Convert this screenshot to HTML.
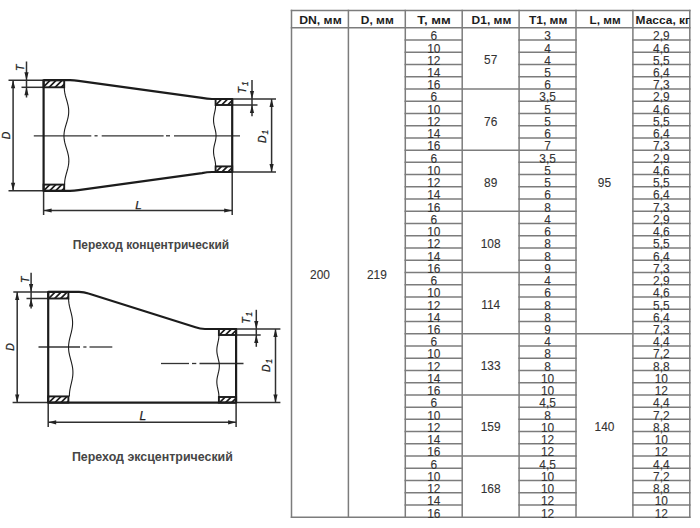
<!DOCTYPE html>
<html><head><meta charset="utf-8">
<style>
html,body{margin:0;padding:0;background:#fff;}
body{width:700px;height:528px;overflow:hidden;position:relative;}
svg{position:absolute;left:0;top:0;}
text{font-family:"Liberation Sans",sans-serif;}
.n{font-size:11.9px;fill:#333;stroke:#333;stroke-width:0.1px;text-anchor:middle;}
.h{font-size:11.4px;font-weight:bold;fill:#1c1c1c;}
.lab{font-style:italic;fill:#1e1e1e;stroke:#1e1e1e;stroke-width:0.25px;}
.cap{font-size:12.1px;font-weight:bold;fill:#464646;}
</style></head><body>
<svg width="700" height="528" viewBox="0 0 700 528">
<rect width="700" height="528" fill="#fff"/>
<line x1="405.30" y1="39.99" x2="462.20" y2="39.99" stroke="#7c7c7c" stroke-width="1.5" stroke-linecap="square"/>
<line x1="519.10" y1="39.99" x2="576.00" y2="39.99" stroke="#7c7c7c" stroke-width="1.5" stroke-linecap="square"/>
<line x1="632.90" y1="39.99" x2="689.80" y2="39.99" stroke="#7c7c7c" stroke-width="1.5" stroke-linecap="square"/>
<line x1="405.30" y1="52.23" x2="462.20" y2="52.23" stroke="#7c7c7c" stroke-width="1.5" stroke-linecap="square"/>
<line x1="519.10" y1="52.23" x2="576.00" y2="52.23" stroke="#7c7c7c" stroke-width="1.5" stroke-linecap="square"/>
<line x1="632.90" y1="52.23" x2="689.80" y2="52.23" stroke="#7c7c7c" stroke-width="1.5" stroke-linecap="square"/>
<line x1="405.30" y1="64.46" x2="462.20" y2="64.46" stroke="#7c7c7c" stroke-width="1.5" stroke-linecap="square"/>
<line x1="519.10" y1="64.46" x2="576.00" y2="64.46" stroke="#7c7c7c" stroke-width="1.5" stroke-linecap="square"/>
<line x1="632.90" y1="64.46" x2="689.80" y2="64.46" stroke="#7c7c7c" stroke-width="1.5" stroke-linecap="square"/>
<line x1="405.30" y1="76.70" x2="462.20" y2="76.70" stroke="#7c7c7c" stroke-width="1.5" stroke-linecap="square"/>
<line x1="519.10" y1="76.70" x2="576.00" y2="76.70" stroke="#7c7c7c" stroke-width="1.5" stroke-linecap="square"/>
<line x1="632.90" y1="76.70" x2="689.80" y2="76.70" stroke="#7c7c7c" stroke-width="1.5" stroke-linecap="square"/>
<line x1="405.30" y1="88.94" x2="576.00" y2="88.94" stroke="#7c7c7c" stroke-width="1.5" stroke-linecap="square"/>
<line x1="632.90" y1="88.94" x2="689.80" y2="88.94" stroke="#7c7c7c" stroke-width="1.5" stroke-linecap="square"/>
<line x1="405.30" y1="101.18" x2="462.20" y2="101.18" stroke="#7c7c7c" stroke-width="1.5" stroke-linecap="square"/>
<line x1="519.10" y1="101.18" x2="576.00" y2="101.18" stroke="#7c7c7c" stroke-width="1.5" stroke-linecap="square"/>
<line x1="632.90" y1="101.18" x2="689.80" y2="101.18" stroke="#7c7c7c" stroke-width="1.5" stroke-linecap="square"/>
<line x1="405.30" y1="113.42" x2="462.20" y2="113.42" stroke="#7c7c7c" stroke-width="1.5" stroke-linecap="square"/>
<line x1="519.10" y1="113.42" x2="576.00" y2="113.42" stroke="#7c7c7c" stroke-width="1.5" stroke-linecap="square"/>
<line x1="632.90" y1="113.42" x2="689.80" y2="113.42" stroke="#7c7c7c" stroke-width="1.5" stroke-linecap="square"/>
<line x1="405.30" y1="125.65" x2="462.20" y2="125.65" stroke="#7c7c7c" stroke-width="1.5" stroke-linecap="square"/>
<line x1="519.10" y1="125.65" x2="576.00" y2="125.65" stroke="#7c7c7c" stroke-width="1.5" stroke-linecap="square"/>
<line x1="632.90" y1="125.65" x2="689.80" y2="125.65" stroke="#7c7c7c" stroke-width="1.5" stroke-linecap="square"/>
<line x1="405.30" y1="137.89" x2="462.20" y2="137.89" stroke="#7c7c7c" stroke-width="1.5" stroke-linecap="square"/>
<line x1="519.10" y1="137.89" x2="576.00" y2="137.89" stroke="#7c7c7c" stroke-width="1.5" stroke-linecap="square"/>
<line x1="632.90" y1="137.89" x2="689.80" y2="137.89" stroke="#7c7c7c" stroke-width="1.5" stroke-linecap="square"/>
<line x1="405.30" y1="150.13" x2="576.00" y2="150.13" stroke="#7c7c7c" stroke-width="1.5" stroke-linecap="square"/>
<line x1="632.90" y1="150.13" x2="689.80" y2="150.13" stroke="#7c7c7c" stroke-width="1.5" stroke-linecap="square"/>
<line x1="405.30" y1="162.37" x2="462.20" y2="162.37" stroke="#7c7c7c" stroke-width="1.5" stroke-linecap="square"/>
<line x1="519.10" y1="162.37" x2="576.00" y2="162.37" stroke="#7c7c7c" stroke-width="1.5" stroke-linecap="square"/>
<line x1="632.90" y1="162.37" x2="689.80" y2="162.37" stroke="#7c7c7c" stroke-width="1.5" stroke-linecap="square"/>
<line x1="405.30" y1="174.61" x2="462.20" y2="174.61" stroke="#7c7c7c" stroke-width="1.5" stroke-linecap="square"/>
<line x1="519.10" y1="174.61" x2="576.00" y2="174.61" stroke="#7c7c7c" stroke-width="1.5" stroke-linecap="square"/>
<line x1="632.90" y1="174.61" x2="689.80" y2="174.61" stroke="#7c7c7c" stroke-width="1.5" stroke-linecap="square"/>
<line x1="405.30" y1="186.84" x2="462.20" y2="186.84" stroke="#7c7c7c" stroke-width="1.5" stroke-linecap="square"/>
<line x1="519.10" y1="186.84" x2="576.00" y2="186.84" stroke="#7c7c7c" stroke-width="1.5" stroke-linecap="square"/>
<line x1="632.90" y1="186.84" x2="689.80" y2="186.84" stroke="#7c7c7c" stroke-width="1.5" stroke-linecap="square"/>
<line x1="405.30" y1="199.08" x2="462.20" y2="199.08" stroke="#7c7c7c" stroke-width="1.5" stroke-linecap="square"/>
<line x1="519.10" y1="199.08" x2="576.00" y2="199.08" stroke="#7c7c7c" stroke-width="1.5" stroke-linecap="square"/>
<line x1="632.90" y1="199.08" x2="689.80" y2="199.08" stroke="#7c7c7c" stroke-width="1.5" stroke-linecap="square"/>
<line x1="405.30" y1="211.32" x2="576.00" y2="211.32" stroke="#7c7c7c" stroke-width="1.5" stroke-linecap="square"/>
<line x1="632.90" y1="211.32" x2="689.80" y2="211.32" stroke="#7c7c7c" stroke-width="1.5" stroke-linecap="square"/>
<line x1="405.30" y1="223.56" x2="462.20" y2="223.56" stroke="#7c7c7c" stroke-width="1.5" stroke-linecap="square"/>
<line x1="519.10" y1="223.56" x2="576.00" y2="223.56" stroke="#7c7c7c" stroke-width="1.5" stroke-linecap="square"/>
<line x1="632.90" y1="223.56" x2="689.80" y2="223.56" stroke="#7c7c7c" stroke-width="1.5" stroke-linecap="square"/>
<line x1="405.30" y1="235.80" x2="462.20" y2="235.80" stroke="#7c7c7c" stroke-width="1.5" stroke-linecap="square"/>
<line x1="519.10" y1="235.80" x2="576.00" y2="235.80" stroke="#7c7c7c" stroke-width="1.5" stroke-linecap="square"/>
<line x1="632.90" y1="235.80" x2="689.80" y2="235.80" stroke="#7c7c7c" stroke-width="1.5" stroke-linecap="square"/>
<line x1="405.30" y1="248.03" x2="462.20" y2="248.03" stroke="#7c7c7c" stroke-width="1.5" stroke-linecap="square"/>
<line x1="519.10" y1="248.03" x2="576.00" y2="248.03" stroke="#7c7c7c" stroke-width="1.5" stroke-linecap="square"/>
<line x1="632.90" y1="248.03" x2="689.80" y2="248.03" stroke="#7c7c7c" stroke-width="1.5" stroke-linecap="square"/>
<line x1="405.30" y1="260.27" x2="462.20" y2="260.27" stroke="#7c7c7c" stroke-width="1.5" stroke-linecap="square"/>
<line x1="519.10" y1="260.27" x2="576.00" y2="260.27" stroke="#7c7c7c" stroke-width="1.5" stroke-linecap="square"/>
<line x1="632.90" y1="260.27" x2="689.80" y2="260.27" stroke="#7c7c7c" stroke-width="1.5" stroke-linecap="square"/>
<line x1="405.30" y1="272.51" x2="576.00" y2="272.51" stroke="#7c7c7c" stroke-width="1.5" stroke-linecap="square"/>
<line x1="632.90" y1="272.51" x2="689.80" y2="272.51" stroke="#7c7c7c" stroke-width="1.5" stroke-linecap="square"/>
<line x1="405.30" y1="284.75" x2="462.20" y2="284.75" stroke="#7c7c7c" stroke-width="1.5" stroke-linecap="square"/>
<line x1="519.10" y1="284.75" x2="576.00" y2="284.75" stroke="#7c7c7c" stroke-width="1.5" stroke-linecap="square"/>
<line x1="632.90" y1="284.75" x2="689.80" y2="284.75" stroke="#7c7c7c" stroke-width="1.5" stroke-linecap="square"/>
<line x1="405.30" y1="296.99" x2="462.20" y2="296.99" stroke="#7c7c7c" stroke-width="1.5" stroke-linecap="square"/>
<line x1="519.10" y1="296.99" x2="576.00" y2="296.99" stroke="#7c7c7c" stroke-width="1.5" stroke-linecap="square"/>
<line x1="632.90" y1="296.99" x2="689.80" y2="296.99" stroke="#7c7c7c" stroke-width="1.5" stroke-linecap="square"/>
<line x1="405.30" y1="309.22" x2="462.20" y2="309.22" stroke="#7c7c7c" stroke-width="1.5" stroke-linecap="square"/>
<line x1="519.10" y1="309.22" x2="576.00" y2="309.22" stroke="#7c7c7c" stroke-width="1.5" stroke-linecap="square"/>
<line x1="632.90" y1="309.22" x2="689.80" y2="309.22" stroke="#7c7c7c" stroke-width="1.5" stroke-linecap="square"/>
<line x1="405.30" y1="321.46" x2="462.20" y2="321.46" stroke="#7c7c7c" stroke-width="1.5" stroke-linecap="square"/>
<line x1="519.10" y1="321.46" x2="576.00" y2="321.46" stroke="#7c7c7c" stroke-width="1.5" stroke-linecap="square"/>
<line x1="632.90" y1="321.46" x2="689.80" y2="321.46" stroke="#7c7c7c" stroke-width="1.5" stroke-linecap="square"/>
<line x1="405.30" y1="333.70" x2="689.80" y2="333.70" stroke="#7c7c7c" stroke-width="1.5" stroke-linecap="square"/>
<line x1="405.30" y1="345.94" x2="462.20" y2="345.94" stroke="#7c7c7c" stroke-width="1.5" stroke-linecap="square"/>
<line x1="519.10" y1="345.94" x2="576.00" y2="345.94" stroke="#7c7c7c" stroke-width="1.5" stroke-linecap="square"/>
<line x1="632.90" y1="345.94" x2="689.80" y2="345.94" stroke="#7c7c7c" stroke-width="1.5" stroke-linecap="square"/>
<line x1="405.30" y1="358.18" x2="462.20" y2="358.18" stroke="#7c7c7c" stroke-width="1.5" stroke-linecap="square"/>
<line x1="519.10" y1="358.18" x2="576.00" y2="358.18" stroke="#7c7c7c" stroke-width="1.5" stroke-linecap="square"/>
<line x1="632.90" y1="358.18" x2="689.80" y2="358.18" stroke="#7c7c7c" stroke-width="1.5" stroke-linecap="square"/>
<line x1="405.30" y1="370.41" x2="462.20" y2="370.41" stroke="#7c7c7c" stroke-width="1.5" stroke-linecap="square"/>
<line x1="519.10" y1="370.41" x2="576.00" y2="370.41" stroke="#7c7c7c" stroke-width="1.5" stroke-linecap="square"/>
<line x1="632.90" y1="370.41" x2="689.80" y2="370.41" stroke="#7c7c7c" stroke-width="1.5" stroke-linecap="square"/>
<line x1="405.30" y1="382.65" x2="462.20" y2="382.65" stroke="#7c7c7c" stroke-width="1.5" stroke-linecap="square"/>
<line x1="519.10" y1="382.65" x2="576.00" y2="382.65" stroke="#7c7c7c" stroke-width="1.5" stroke-linecap="square"/>
<line x1="632.90" y1="382.65" x2="689.80" y2="382.65" stroke="#7c7c7c" stroke-width="1.5" stroke-linecap="square"/>
<line x1="405.30" y1="394.89" x2="576.00" y2="394.89" stroke="#7c7c7c" stroke-width="1.5" stroke-linecap="square"/>
<line x1="632.90" y1="394.89" x2="689.80" y2="394.89" stroke="#7c7c7c" stroke-width="1.5" stroke-linecap="square"/>
<line x1="405.30" y1="407.13" x2="462.20" y2="407.13" stroke="#7c7c7c" stroke-width="1.5" stroke-linecap="square"/>
<line x1="519.10" y1="407.13" x2="576.00" y2="407.13" stroke="#7c7c7c" stroke-width="1.5" stroke-linecap="square"/>
<line x1="632.90" y1="407.13" x2="689.80" y2="407.13" stroke="#7c7c7c" stroke-width="1.5" stroke-linecap="square"/>
<line x1="405.30" y1="419.37" x2="462.20" y2="419.37" stroke="#7c7c7c" stroke-width="1.5" stroke-linecap="square"/>
<line x1="519.10" y1="419.37" x2="576.00" y2="419.37" stroke="#7c7c7c" stroke-width="1.5" stroke-linecap="square"/>
<line x1="632.90" y1="419.37" x2="689.80" y2="419.37" stroke="#7c7c7c" stroke-width="1.5" stroke-linecap="square"/>
<line x1="405.30" y1="431.60" x2="462.20" y2="431.60" stroke="#7c7c7c" stroke-width="1.5" stroke-linecap="square"/>
<line x1="519.10" y1="431.60" x2="576.00" y2="431.60" stroke="#7c7c7c" stroke-width="1.5" stroke-linecap="square"/>
<line x1="632.90" y1="431.60" x2="689.80" y2="431.60" stroke="#7c7c7c" stroke-width="1.5" stroke-linecap="square"/>
<line x1="405.30" y1="443.84" x2="462.20" y2="443.84" stroke="#7c7c7c" stroke-width="1.5" stroke-linecap="square"/>
<line x1="519.10" y1="443.84" x2="576.00" y2="443.84" stroke="#7c7c7c" stroke-width="1.5" stroke-linecap="square"/>
<line x1="632.90" y1="443.84" x2="689.80" y2="443.84" stroke="#7c7c7c" stroke-width="1.5" stroke-linecap="square"/>
<line x1="405.30" y1="456.08" x2="576.00" y2="456.08" stroke="#7c7c7c" stroke-width="1.5" stroke-linecap="square"/>
<line x1="632.90" y1="456.08" x2="689.80" y2="456.08" stroke="#7c7c7c" stroke-width="1.5" stroke-linecap="square"/>
<line x1="405.30" y1="468.32" x2="462.20" y2="468.32" stroke="#7c7c7c" stroke-width="1.5" stroke-linecap="square"/>
<line x1="519.10" y1="468.32" x2="576.00" y2="468.32" stroke="#7c7c7c" stroke-width="1.5" stroke-linecap="square"/>
<line x1="632.90" y1="468.32" x2="689.80" y2="468.32" stroke="#7c7c7c" stroke-width="1.5" stroke-linecap="square"/>
<line x1="405.30" y1="480.56" x2="462.20" y2="480.56" stroke="#7c7c7c" stroke-width="1.5" stroke-linecap="square"/>
<line x1="519.10" y1="480.56" x2="576.00" y2="480.56" stroke="#7c7c7c" stroke-width="1.5" stroke-linecap="square"/>
<line x1="632.90" y1="480.56" x2="689.80" y2="480.56" stroke="#7c7c7c" stroke-width="1.5" stroke-linecap="square"/>
<line x1="405.30" y1="492.79" x2="462.20" y2="492.79" stroke="#7c7c7c" stroke-width="1.5" stroke-linecap="square"/>
<line x1="519.10" y1="492.79" x2="576.00" y2="492.79" stroke="#7c7c7c" stroke-width="1.5" stroke-linecap="square"/>
<line x1="632.90" y1="492.79" x2="689.80" y2="492.79" stroke="#7c7c7c" stroke-width="1.5" stroke-linecap="square"/>
<line x1="405.30" y1="505.03" x2="462.20" y2="505.03" stroke="#7c7c7c" stroke-width="1.5" stroke-linecap="square"/>
<line x1="519.10" y1="505.03" x2="576.00" y2="505.03" stroke="#7c7c7c" stroke-width="1.5" stroke-linecap="square"/>
<line x1="632.90" y1="505.03" x2="689.80" y2="505.03" stroke="#7c7c7c" stroke-width="1.5" stroke-linecap="square"/>
<line x1="291.50" y1="10.60" x2="689.80" y2="10.60" stroke="#7c7c7c" stroke-width="1.5" stroke-linecap="square"/>
<line x1="291.50" y1="27.75" x2="689.80" y2="27.75" stroke="#7c7c7c" stroke-width="1.5" stroke-linecap="square"/>
<line x1="291.50" y1="517.27" x2="689.80" y2="517.27" stroke="#7c7c7c" stroke-width="1.5" stroke-linecap="square"/>
<line x1="291.50" y1="10.60" x2="291.50" y2="517.27" stroke="#7c7c7c" stroke-width="1.5" stroke-linecap="square"/>
<line x1="348.40" y1="10.60" x2="348.40" y2="517.27" stroke="#7c7c7c" stroke-width="1.5" stroke-linecap="square"/>
<line x1="405.30" y1="10.60" x2="405.30" y2="517.27" stroke="#7c7c7c" stroke-width="1.5" stroke-linecap="square"/>
<line x1="462.20" y1="10.60" x2="462.20" y2="517.27" stroke="#7c7c7c" stroke-width="1.5" stroke-linecap="square"/>
<line x1="519.10" y1="10.60" x2="519.10" y2="517.27" stroke="#7c7c7c" stroke-width="1.5" stroke-linecap="square"/>
<line x1="576.00" y1="10.60" x2="576.00" y2="517.27" stroke="#7c7c7c" stroke-width="1.5" stroke-linecap="square"/>
<line x1="632.90" y1="10.60" x2="632.90" y2="517.27" stroke="#7c7c7c" stroke-width="1.5" stroke-linecap="square"/>
<line x1="689.80" y1="10.60" x2="689.80" y2="517.27" stroke="#7c7c7c" stroke-width="1.5" stroke-linecap="square"/>
<text x="299.20" y="23.8" class="h" textLength="42.50" lengthAdjust="spacingAndGlyphs">DN, мм</text>
<text x="360.80" y="23.8" class="h" textLength="33.00" lengthAdjust="spacingAndGlyphs">D, мм</text>
<text x="417.30" y="23.8" class="h" textLength="33.40" lengthAdjust="spacingAndGlyphs">T, мм</text>
<text x="471.60" y="23.8" class="h" textLength="39.70" lengthAdjust="spacingAndGlyphs">D1, мм</text>
<text x="528.90" y="23.8" class="h" textLength="38.50" lengthAdjust="spacingAndGlyphs">T1, мм</text>
<text x="589.60" y="23.8" class="h" textLength="31.10" lengthAdjust="spacingAndGlyphs">L, мм</text>
<text x="635.60" y="23.8" class="h" textLength="54.50" lengthAdjust="spacingAndGlyphs">Масса, кг</text>
<text x="433.75" y="40.29" class="n">6</text>
<text x="547.55" y="40.29" class="n">3</text>
<text x="661.35" y="40.29" class="n">2,9</text>
<text x="433.75" y="52.53" class="n">10</text>
<text x="547.55" y="52.53" class="n">4</text>
<text x="661.35" y="52.53" class="n">4,6</text>
<text x="433.75" y="64.76" class="n">12</text>
<text x="547.55" y="64.76" class="n">4</text>
<text x="661.35" y="64.76" class="n">5,5</text>
<text x="433.75" y="77.00" class="n">14</text>
<text x="547.55" y="77.00" class="n">5</text>
<text x="661.35" y="77.00" class="n">6,4</text>
<text x="433.75" y="89.24" class="n">16</text>
<text x="547.55" y="89.24" class="n">6</text>
<text x="661.35" y="89.24" class="n">7,3</text>
<text x="490.65" y="64.34" class="n">57</text>
<text x="433.75" y="101.48" class="n">6</text>
<text x="547.55" y="101.48" class="n">3,5</text>
<text x="661.35" y="101.48" class="n">2,9</text>
<text x="433.75" y="113.72" class="n">10</text>
<text x="547.55" y="113.72" class="n">5</text>
<text x="661.35" y="113.72" class="n">4,6</text>
<text x="433.75" y="125.95" class="n">12</text>
<text x="547.55" y="125.95" class="n">5</text>
<text x="661.35" y="125.95" class="n">5,5</text>
<text x="433.75" y="138.19" class="n">14</text>
<text x="547.55" y="138.19" class="n">6</text>
<text x="661.35" y="138.19" class="n">6,4</text>
<text x="433.75" y="150.43" class="n">16</text>
<text x="547.55" y="150.43" class="n">7</text>
<text x="661.35" y="150.43" class="n">7,3</text>
<text x="490.65" y="125.53" class="n">76</text>
<text x="433.75" y="162.67" class="n">6</text>
<text x="547.55" y="162.67" class="n">3,5</text>
<text x="661.35" y="162.67" class="n">2,9</text>
<text x="433.75" y="174.91" class="n">10</text>
<text x="547.55" y="174.91" class="n">5</text>
<text x="661.35" y="174.91" class="n">4,6</text>
<text x="433.75" y="187.14" class="n">12</text>
<text x="547.55" y="187.14" class="n">5</text>
<text x="661.35" y="187.14" class="n">5,5</text>
<text x="433.75" y="199.38" class="n">14</text>
<text x="547.55" y="199.38" class="n">6</text>
<text x="661.35" y="199.38" class="n">6,4</text>
<text x="433.75" y="211.62" class="n">16</text>
<text x="547.55" y="211.62" class="n">8</text>
<text x="661.35" y="211.62" class="n">7,3</text>
<text x="490.65" y="186.72" class="n">89</text>
<text x="433.75" y="223.86" class="n">6</text>
<text x="547.55" y="223.86" class="n">4</text>
<text x="661.35" y="223.86" class="n">2,9</text>
<text x="433.75" y="236.10" class="n">10</text>
<text x="547.55" y="236.10" class="n">6</text>
<text x="661.35" y="236.10" class="n">4,6</text>
<text x="433.75" y="248.33" class="n">12</text>
<text x="547.55" y="248.33" class="n">8</text>
<text x="661.35" y="248.33" class="n">5,5</text>
<text x="433.75" y="260.57" class="n">14</text>
<text x="547.55" y="260.57" class="n">8</text>
<text x="661.35" y="260.57" class="n">6,4</text>
<text x="433.75" y="272.81" class="n">16</text>
<text x="547.55" y="272.81" class="n">9</text>
<text x="661.35" y="272.81" class="n">7,3</text>
<text x="490.65" y="247.91" class="n">108</text>
<text x="433.75" y="285.05" class="n">6</text>
<text x="547.55" y="285.05" class="n">4</text>
<text x="661.35" y="285.05" class="n">2,9</text>
<text x="433.75" y="297.29" class="n">10</text>
<text x="547.55" y="297.29" class="n">6</text>
<text x="661.35" y="297.29" class="n">4,6</text>
<text x="433.75" y="309.52" class="n">12</text>
<text x="547.55" y="309.52" class="n">8</text>
<text x="661.35" y="309.52" class="n">5,5</text>
<text x="433.75" y="321.76" class="n">14</text>
<text x="547.55" y="321.76" class="n">8</text>
<text x="661.35" y="321.76" class="n">6,4</text>
<text x="433.75" y="334.00" class="n">16</text>
<text x="547.55" y="334.00" class="n">9</text>
<text x="661.35" y="334.00" class="n">7,3</text>
<text x="490.65" y="309.11" class="n">114</text>
<text x="433.75" y="346.24" class="n">6</text>
<text x="547.55" y="346.24" class="n">4</text>
<text x="661.35" y="346.24" class="n">4,4</text>
<text x="433.75" y="358.48" class="n">10</text>
<text x="547.55" y="358.48" class="n">8</text>
<text x="661.35" y="358.48" class="n">7,2</text>
<text x="433.75" y="370.71" class="n">12</text>
<text x="547.55" y="370.71" class="n">8</text>
<text x="661.35" y="370.71" class="n">8,8</text>
<text x="433.75" y="382.95" class="n">14</text>
<text x="547.55" y="382.95" class="n">10</text>
<text x="661.35" y="382.95" class="n">10</text>
<text x="433.75" y="395.19" class="n">16</text>
<text x="547.55" y="395.19" class="n">10</text>
<text x="661.35" y="395.19" class="n">12</text>
<text x="490.65" y="370.29" class="n">133</text>
<text x="433.75" y="407.43" class="n">6</text>
<text x="547.55" y="407.43" class="n">4,5</text>
<text x="661.35" y="407.43" class="n">4,4</text>
<text x="433.75" y="419.67" class="n">10</text>
<text x="547.55" y="419.67" class="n">8</text>
<text x="661.35" y="419.67" class="n">7,2</text>
<text x="433.75" y="431.90" class="n">12</text>
<text x="547.55" y="431.90" class="n">10</text>
<text x="661.35" y="431.90" class="n">8,8</text>
<text x="433.75" y="444.14" class="n">14</text>
<text x="547.55" y="444.14" class="n">12</text>
<text x="661.35" y="444.14" class="n">10</text>
<text x="433.75" y="456.38" class="n">16</text>
<text x="547.55" y="456.38" class="n">12</text>
<text x="661.35" y="456.38" class="n">12</text>
<text x="490.65" y="431.49" class="n">159</text>
<text x="433.75" y="468.62" class="n">6</text>
<text x="547.55" y="468.62" class="n">4,5</text>
<text x="661.35" y="468.62" class="n">4,4</text>
<text x="433.75" y="480.86" class="n">10</text>
<text x="547.55" y="480.86" class="n">10</text>
<text x="661.35" y="480.86" class="n">7,2</text>
<text x="433.75" y="493.09" class="n">12</text>
<text x="547.55" y="493.09" class="n">10</text>
<text x="661.35" y="493.09" class="n">8,8</text>
<text x="433.75" y="505.33" class="n">14</text>
<text x="547.55" y="505.33" class="n">12</text>
<text x="661.35" y="505.33" class="n">10</text>
<text x="433.75" y="517.57" class="n">16</text>
<text x="547.55" y="517.57" class="n">12</text>
<text x="661.35" y="517.57" class="n">12</text>
<text x="490.65" y="492.67" class="n">168</text>
<text x="319.95" y="278.81" class="n">200</text>
<text x="376.85" y="278.81" class="n">219</text>
<text x="604.45" y="186.53" class="n">95</text>
<text x="604.45" y="431.19" class="n">140</text>
<line x1="8.5" y1="80.2" x2="43.6" y2="80.2" stroke="#303030" stroke-width="1.5"/>
<line x1="8.5" y1="190.8" x2="43.6" y2="190.8" stroke="#303030" stroke-width="1.5"/>
<line x1="21.5" y1="87.3" x2="43.6" y2="87.3" stroke="#303030" stroke-width="1.5"/>
<line x1="232.2" y1="99.0" x2="276" y2="99.0" stroke="#303030" stroke-width="1.5"/>
<line x1="232.2" y1="172.0" x2="276" y2="172.0" stroke="#303030" stroke-width="1.5"/>
<line x1="232.2" y1="105.0" x2="257.5" y2="105.0" stroke="#303030" stroke-width="1.5"/>
<line x1="43.6" y1="190.8" x2="43.6" y2="215" stroke="#303030" stroke-width="1.5"/>
<line x1="232.2" y1="172.0" x2="232.2" y2="215" stroke="#303030" stroke-width="1.5"/>
<line x1="13.1" y1="80.2" x2="13.1" y2="190.8" stroke="#303030" stroke-width="1.5"/>
<polygon points="13.10,80.20 11.00,88.20 15.20,88.20" fill="#222"/>
<polygon points="13.10,190.80 11.00,182.80 15.20,182.80" fill="#222"/>
<line x1="26.5" y1="61.5" x2="26.5" y2="97.5" stroke="#303030" stroke-width="1.5"/>
<polygon points="26.50,80.20 24.40,72.20 28.60,72.20" fill="#222"/>
<polygon points="26.50,87.30 24.40,95.30 28.60,95.30" fill="#222"/>
<line x1="271.6" y1="99.0" x2="271.6" y2="172.0" stroke="#303030" stroke-width="1.5"/>
<polygon points="271.60,99.00 269.50,107.00 273.70,107.00" fill="#222"/>
<polygon points="271.60,172.00 269.50,164.00 273.70,164.00" fill="#222"/>
<line x1="252.0" y1="80.0" x2="252.0" y2="116.3" stroke="#303030" stroke-width="1.5"/>
<polygon points="252.00,99.00 249.90,91.00 254.10,91.00" fill="#222"/>
<polygon points="252.00,105.00 249.90,113.00 254.10,113.00" fill="#222"/>
<line x1="43.6" y1="210.5" x2="232.2" y2="210.5" stroke="#303030" stroke-width="1.5"/>
<polygon points="43.60,210.50 51.60,208.40 51.60,212.60" fill="#222"/>
<polygon points="232.20,210.50 224.20,208.40 224.20,212.60" fill="#222"/>
<line x1="33.8" y1="135.8" x2="91.3" y2="135.8" stroke="#333" stroke-width="1.3"/>
<line x1="94.5" y1="135.8" x2="97.6" y2="135.8" stroke="#333" stroke-width="1.3"/>
<line x1="101.7" y1="135.8" x2="163.6" y2="135.8" stroke="#333" stroke-width="1.3"/>
<line x1="166" y1="135.8" x2="170" y2="135.8" stroke="#333" stroke-width="1.3"/>
<line x1="174" y1="135.8" x2="240" y2="135.8" stroke="#333" stroke-width="1.3"/>
<path d="M43.6,80.2 L43.6,190.8" stroke="#1c1c1c" stroke-width="2.2" fill="none"/>
<path d="M232.2,99.0 L232.2,172.0" stroke="#1c1c1c" stroke-width="2.2" fill="none"/>
<path d="M43.6,80.2 L70,80.2 Q74,80.2 78.5,80.8 L202,97.9 Q207,99.0 212,99.0 L232.2,99.0" stroke="#1c1c1c" stroke-width="2.2" fill="none"/>
<path d="M43.6,190.8 L70,190.8 Q74,190.8 78.5,190.2 L202,173.1 Q207,172.0 212,172.0 L232.2,172.0" stroke="#1c1c1c" stroke-width="2.2" fill="none"/>
<clipPath id="hc1"><rect x="43.6" y="80.2" width="20.60" height="7.10"/></clipPath>
<path d="M28.70,89.75L40.70,77.75M34.70,89.75L46.70,77.75M40.70,89.75L52.70,77.75M46.70,89.75L58.70,77.75M52.70,89.75L64.70,77.75M58.70,89.75L70.70,77.75M64.70,89.75L76.70,77.75" stroke="#1c1c1c" stroke-width="1.7" clip-path="url(#hc1)"/>
<rect x="43.6" y="80.2" width="20.60" height="7.10" fill="none" stroke="#1c1c1c" stroke-width="1.9"/>
<clipPath id="hc2"><rect x="43.6" y="184.6" width="20.60" height="6.20"/></clipPath>
<path d="M28.70,193.70L40.70,181.70M34.70,193.70L46.70,181.70M40.70,193.70L52.70,181.70M46.70,193.70L58.70,181.70M52.70,193.70L64.70,181.70M58.70,193.70L70.70,181.70M64.70,193.70L76.70,181.70" stroke="#1c1c1c" stroke-width="1.7" clip-path="url(#hc2)"/>
<rect x="43.6" y="184.6" width="20.60" height="6.20" fill="none" stroke="#1c1c1c" stroke-width="1.9"/>
<clipPath id="hc3"><rect x="215.6" y="99.0" width="16.60" height="6.00"/></clipPath>
<path d="M200.70,108.00L212.70,96.00M206.70,108.00L218.70,96.00M212.70,108.00L224.70,96.00M218.70,108.00L230.70,96.00M224.70,108.00L236.70,96.00M230.70,108.00L242.70,96.00M236.70,108.00L248.70,96.00" stroke="#1c1c1c" stroke-width="1.7" clip-path="url(#hc3)"/>
<rect x="215.6" y="99.0" width="16.60" height="6.00" fill="none" stroke="#1c1c1c" stroke-width="1.9"/>
<clipPath id="hc4"><rect x="215.6" y="166.4" width="16.60" height="5.60"/></clipPath>
<path d="M200.70,175.20L212.70,163.20M206.70,175.20L218.70,163.20M212.70,175.20L224.70,163.20M218.70,175.20L230.70,163.20M224.70,175.20L236.70,163.20M230.70,175.20L242.70,163.20M236.70,175.20L248.70,163.20" stroke="#1c1c1c" stroke-width="1.7" clip-path="url(#hc4)"/>
<rect x="215.6" y="166.4" width="16.60" height="5.60" fill="none" stroke="#1c1c1c" stroke-width="1.9"/>
<polyline points="64.30,87.30 64.33,88.92 64.45,90.54 64.68,92.16 64.98,93.79 65.36,95.41 65.79,97.03 66.25,98.65 66.72,100.27 67.19,101.89 67.62,103.52 68.00,105.14 68.31,106.76 68.55,108.38 68.68,110.00 68.72,111.62 68.66,113.25 68.50,114.87 68.24,116.49 67.91,118.11 67.50,119.73 67.05,121.35 66.56,122.98 66.07,124.60 65.58,126.22 65.13,127.84 64.73,129.46 64.40,131.08 64.16,132.71 64.01,134.33 63.96,135.95 64.02,137.57 64.18,139.19 64.43,140.81 64.76,142.44 65.17,144.06 65.63,145.68 66.12,147.30 66.62,148.92 67.12,150.54 67.58,152.17 67.99,153.79 68.34,155.41 68.60,157.03 68.77,158.65 68.85,160.27 68.82,161.90 68.69,163.52 68.46,165.14 68.16,166.76 67.79,168.38 67.37,170.00 66.92,171.63 66.46,173.25 66.01,174.87 65.59,176.49 65.23,178.11 64.93,179.73 64.73,181.36 64.61,182.98 64.60,184.60" fill="none" stroke="#1c1c1c" stroke-width="1.1"/>
<polyline points="215.60,105.00 215.60,106.02 215.55,107.05 215.46,108.07 215.31,109.09 215.14,110.12 214.93,111.14 214.71,112.16 214.48,113.19 214.26,114.21 214.05,115.23 213.87,116.26 213.72,117.28 213.61,118.30 213.55,119.33 213.54,120.35 213.58,121.37 213.67,122.40 213.81,123.42 213.99,124.44 214.20,125.47 214.44,126.49 214.69,127.51 214.95,128.54 215.20,129.56 215.44,130.58 215.64,131.61 215.82,132.63 215.94,133.65 216.02,134.68 216.05,135.70 216.02,136.72 215.94,137.75 215.82,138.77 215.64,139.79 215.44,140.82 215.20,141.84 214.95,142.86 214.69,143.89 214.44,144.91 214.20,145.93 213.99,146.96 213.81,147.98 213.67,149.00 213.58,150.03 213.54,151.05 213.55,152.07 213.61,153.10 213.72,154.12 213.87,155.14 214.05,156.17 214.26,157.19 214.48,158.21 214.71,159.24 214.93,160.26 215.14,161.28 215.31,162.31 215.46,163.33 215.55,164.35 215.60,165.38 215.60,166.40" fill="none" stroke="#1c1c1c" stroke-width="1.1"/>
<text transform="translate(24.3,71) rotate(-90)" class="lab" style="font-size:10.5px">T</text>
<text transform="translate(9.8,139.3) rotate(-90)" class="lab" style="font-size:10.5px">D</text>
<text transform="translate(245.8,93.5) rotate(-90)" class="lab" style="font-size:10.5px">T<tspan style="font-size:8.2px" dx="1.0" dy="2">1</tspan></text>
<text transform="translate(265.5,143) rotate(-90)" class="lab" style="font-size:10.5px">D<tspan style="font-size:8.2px" dx="1.0" dy="2">1</tspan></text>
<text x="135.2" y="208.6" class="lab" style="font-size:11.6px">L</text>
<line x1="13.3" y1="291.9" x2="48.2" y2="291.9" stroke="#303030" stroke-width="1.5"/>
<line x1="12.6" y1="402.6" x2="48.2" y2="402.6" stroke="#303030" stroke-width="1.5"/>
<line x1="26.5" y1="298.5" x2="48.2" y2="298.5" stroke="#303030" stroke-width="1.5"/>
<line x1="236.1" y1="329.0" x2="280.4" y2="329.0" stroke="#303030" stroke-width="1.5"/>
<line x1="236.1" y1="402.6" x2="280.4" y2="402.6" stroke="#303030" stroke-width="1.5"/>
<line x1="236.1" y1="335.0" x2="260.7" y2="335.0" stroke="#303030" stroke-width="1.5"/>
<line x1="48.2" y1="402.6" x2="48.2" y2="427" stroke="#303030" stroke-width="1.5"/>
<line x1="236.1" y1="402.6" x2="236.1" y2="427" stroke="#303030" stroke-width="1.5"/>
<line x1="17.2" y1="291.9" x2="17.2" y2="402.6" stroke="#303030" stroke-width="1.5"/>
<polygon points="17.20,291.90 15.10,299.90 19.30,299.90" fill="#222"/>
<polygon points="17.20,402.60 15.10,394.60 19.30,394.60" fill="#222"/>
<line x1="31.1" y1="272.7" x2="31.1" y2="308.5" stroke="#303030" stroke-width="1.5"/>
<polygon points="31.10,291.90 29.00,283.90 33.20,283.90" fill="#222"/>
<polygon points="31.10,298.50 29.00,306.50 33.20,306.50" fill="#222"/>
<line x1="275.5" y1="329.0" x2="275.5" y2="402.6" stroke="#303030" stroke-width="1.5"/>
<polygon points="275.50,329.00 273.40,337.00 277.60,337.00" fill="#222"/>
<polygon points="275.50,402.60 273.40,394.60 277.60,394.60" fill="#222"/>
<line x1="256.3" y1="309.8" x2="256.3" y2="346.8" stroke="#303030" stroke-width="1.5"/>
<polygon points="256.30,329.00 254.20,321.00 258.40,321.00" fill="#222"/>
<polygon points="256.30,335.00 254.20,343.00 258.40,343.00" fill="#222"/>
<line x1="48.2" y1="422.3" x2="236.1" y2="422.3" stroke="#303030" stroke-width="1.5"/>
<polygon points="48.20,422.30 56.20,420.20 56.20,424.40" fill="#222"/>
<polygon points="236.10,422.30 228.10,420.20 228.10,424.40" fill="#222"/>
<line x1="38.5" y1="347.0" x2="80" y2="347.0" stroke="#333" stroke-width="1.3"/>
<line x1="83.3" y1="347.0" x2="86.5" y2="347.0" stroke="#333" stroke-width="1.3"/>
<line x1="89.5" y1="347.0" x2="112.3" y2="347.0" stroke="#333" stroke-width="1.3"/>
<line x1="161" y1="363.5" x2="189" y2="363.5" stroke="#333" stroke-width="1.3"/>
<line x1="192" y1="363.5" x2="196.3" y2="363.5" stroke="#333" stroke-width="1.3"/>
<line x1="199.5" y1="363.5" x2="243.5" y2="363.5" stroke="#333" stroke-width="1.3"/>
<path d="M48.2,291.9 L48.2,402.6" stroke="#1c1c1c" stroke-width="2.2" fill="none"/>
<path d="M236.1,329.0 L236.1,402.6" stroke="#1c1c1c" stroke-width="2.2" fill="none"/>
<path d="M48.2,291.9 L79,291.9 Q84,291.9 88.5,293.5 L195.5,327.3 Q200,329.0 205,329.0 L236.1,329.0" stroke="#1c1c1c" stroke-width="2.2" fill="none"/>
<path d="M48.2,402.6 L236.1,402.6" stroke="#1c1c1c" stroke-width="2.2" fill="none"/>
<clipPath id="hc5"><rect x="48.2" y="291.9" width="20.20" height="6.60"/></clipPath>
<path d="M34.00,301.20L46.00,289.20M40.00,301.20L52.00,289.20M46.00,301.20L58.00,289.20M52.00,301.20L64.00,289.20M58.00,301.20L70.00,289.20M64.00,301.20L76.00,289.20M70.00,301.20L82.00,289.20" stroke="#1c1c1c" stroke-width="1.7" clip-path="url(#hc5)"/>
<rect x="48.2" y="291.9" width="20.20" height="6.60" fill="none" stroke="#1c1c1c" stroke-width="1.9"/>
<clipPath id="hc6"><rect x="48.2" y="396.4" width="20.20" height="6.20"/></clipPath>
<path d="M34.00,405.50L46.00,393.50M40.00,405.50L52.00,393.50M46.00,405.50L58.00,393.50M52.00,405.50L64.00,393.50M58.00,405.50L70.00,393.50M64.00,405.50L76.00,393.50M70.00,405.50L82.00,393.50" stroke="#1c1c1c" stroke-width="1.7" clip-path="url(#hc6)"/>
<rect x="48.2" y="396.4" width="20.20" height="6.20" fill="none" stroke="#1c1c1c" stroke-width="1.9"/>
<clipPath id="hc7"><rect x="218.9" y="329.0" width="17.20" height="6.00"/></clipPath>
<path d="M204.40,338.00L216.40,326.00M210.40,338.00L222.40,326.00M216.40,338.00L228.40,326.00M222.40,338.00L234.40,326.00M228.40,338.00L240.40,326.00M234.40,338.00L246.40,326.00M240.40,338.00L252.40,326.00" stroke="#1c1c1c" stroke-width="1.7" clip-path="url(#hc7)"/>
<rect x="218.9" y="329.0" width="17.20" height="6.00" fill="none" stroke="#1c1c1c" stroke-width="1.9"/>
<clipPath id="hc8"><rect x="218.9" y="397.0" width="17.20" height="5.60"/></clipPath>
<path d="M204.40,405.80L216.40,393.80M210.40,405.80L222.40,393.80M216.40,405.80L228.40,393.80M222.40,405.80L234.40,393.80M228.40,405.80L240.40,393.80M234.40,405.80L246.40,393.80M240.40,405.80L252.40,393.80" stroke="#1c1c1c" stroke-width="1.7" clip-path="url(#hc8)"/>
<rect x="218.9" y="397.0" width="17.20" height="5.60" fill="none" stroke="#1c1c1c" stroke-width="1.9"/>
<polyline points="68.60,298.50 68.63,300.13 68.76,301.76 68.96,303.39 69.24,305.03 69.58,306.66 69.96,308.29 70.38,309.92 70.80,311.55 71.21,313.19 71.60,314.82 71.94,316.45 72.22,318.08 72.43,319.71 72.56,321.34 72.60,322.98 72.55,324.61 72.42,326.24 72.20,327.87 71.92,329.50 71.57,331.13 71.18,332.76 70.76,334.40 70.34,336.03 69.92,337.66 69.54,339.29 69.20,340.92 68.92,342.56 68.71,344.19 68.59,345.82 68.55,347.45 68.61,349.08 68.75,350.71 68.98,352.34 69.28,353.98 69.64,355.61 70.05,357.24 70.48,358.87 70.93,360.50 71.37,362.13 71.78,363.77 72.15,365.40 72.46,367.03 72.70,368.66 72.85,370.29 72.92,371.92 72.91,373.56 72.81,375.19 72.62,376.82 72.37,378.45 72.05,380.08 71.70,381.71 71.32,383.35 70.93,384.98 70.55,386.61 70.20,388.24 69.89,389.87 69.65,391.50 69.48,393.14 69.40,394.77 69.40,396.40" fill="none" stroke="#1c1c1c" stroke-width="1.1"/>
<polyline points="218.90,335.00 218.90,336.03 218.85,337.07 218.76,338.10 218.61,339.13 218.44,340.17 218.23,341.20 218.01,342.23 217.78,343.27 217.56,344.30 217.35,345.33 217.17,346.37 217.02,347.40 216.91,348.43 216.85,349.47 216.84,350.50 216.88,351.53 216.97,352.57 217.11,353.60 217.29,354.63 217.50,355.67 217.74,356.70 217.99,357.73 218.25,358.77 218.50,359.80 218.74,360.83 218.94,361.87 219.12,362.90 219.24,363.93 219.32,364.97 219.35,366.00 219.32,367.03 219.24,368.07 219.12,369.10 218.94,370.13 218.74,371.17 218.50,372.20 218.25,373.23 217.99,374.27 217.74,375.30 217.50,376.33 217.29,377.37 217.11,378.40 216.97,379.43 216.88,380.47 216.84,381.50 216.85,382.53 216.91,383.57 217.02,384.60 217.17,385.63 217.35,386.67 217.56,387.70 217.78,388.73 218.01,389.77 218.23,390.80 218.44,391.83 218.61,392.87 218.76,393.90 218.85,394.93 218.90,395.97 218.90,397.00" fill="none" stroke="#1c1c1c" stroke-width="1.1"/>
<text transform="translate(28.8,283) rotate(-90)" class="lab" style="font-size:10.5px">T</text>
<text transform="translate(14.2,350.8) rotate(-90)" class="lab" style="font-size:10.5px">D</text>
<text transform="translate(250,323.8) rotate(-90)" class="lab" style="font-size:10.5px">T<tspan style="font-size:8.2px" dx="1.0" dy="2">1</tspan></text>
<text transform="translate(270,372) rotate(-90)" class="lab" style="font-size:10.5px">D<tspan style="font-size:8.2px" dx="1.0" dy="2">1</tspan></text>
<text x="139.5" y="419.9" class="lab" style="font-size:12px">L</text>
<text x="72.7" y="248.8" class="cap" textLength="156.5" lengthAdjust="spacingAndGlyphs">Переход концентрический</text>
<text x="71.9" y="461.4" class="cap" textLength="161" lengthAdjust="spacingAndGlyphs">Переход эксцентрический</text>
</svg>
</body></html>
